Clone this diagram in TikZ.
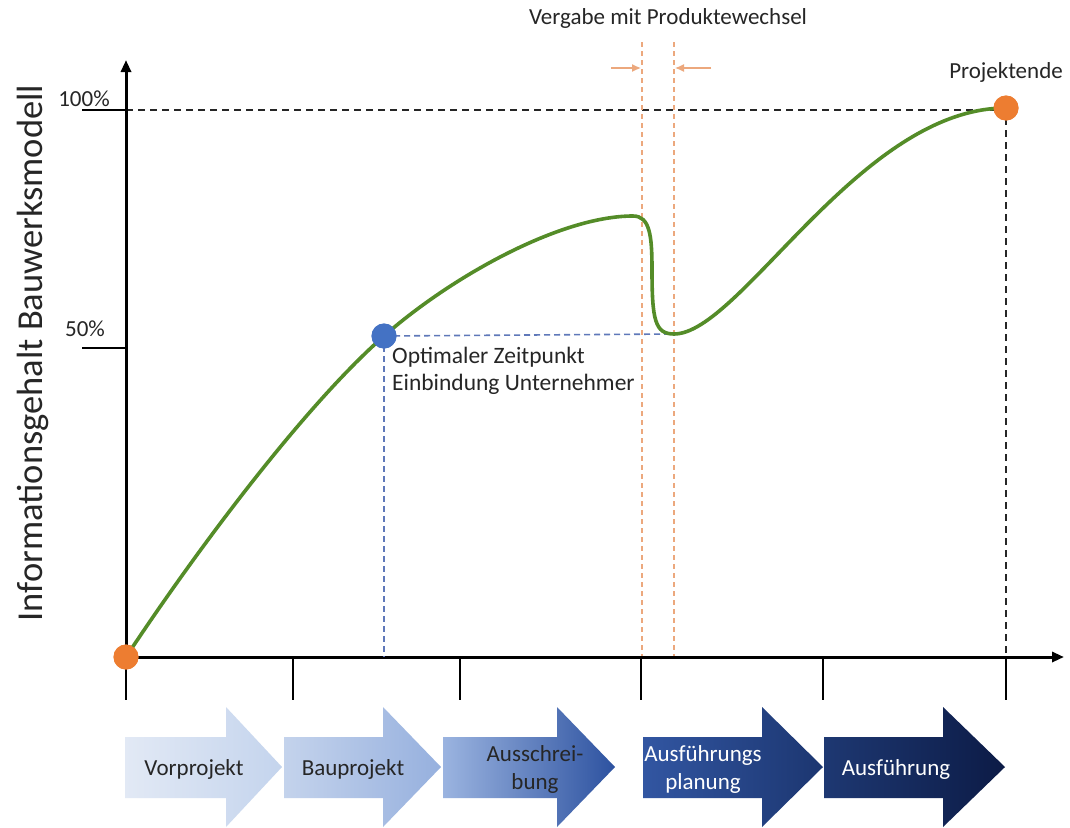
\documentclass[tikz,border=0pt]{standalone}
\usepackage{fontspec}
\setmainfont{Carlito}
\usetikzlibrary{arrows.meta}
\definecolor{ogreen}{RGB}{84,140,40}
\definecolor{oorange}{RGB}{237,125,49}
\definecolor{oblue}{RGB}{68,114,196}
\definecolor{lorange}{RGB}{236,168,125}
\definecolor{dblue}{RGB}{95,120,185}
\definecolor{txt}{RGB}{38,38,38}
\definecolor{pa1}{RGB}{226,233,245}
\definecolor{pb1}{RGB}{196,212,237}
\definecolor{pa2}{RGB}{196,211,236}
\definecolor{pb2}{RGB}{150,176,222}
\definecolor{pa3}{RGB}{155,180,224}
\definecolor{pb3}{RGB}{45,82,160}
\definecolor{pa4}{RGB}{50,86,162}
\definecolor{pb4}{RGB}{28,54,112}
\definecolor{pa5}{RGB}{30,56,114}
\definecolor{pb5}{RGB}{12,27,70}
\newcommand\phasearrow[5]{%
  \shade[left color=#4, right color=#5]
    (#1,737) -- (#2,737) -- (#2,707) -- (#3,767) -- (#2,827) -- (#2,798) -- (#1,798) -- cycle;}
\tikzset{
  lbl/.style={font=\fontsize{23}{28}\selectfont, text=txt, inner sep=0pt},
  phasetxt/.style={font=\fontsize{23}{28}\selectfont, align=center, inner sep=0pt},
  dot/.style={circle, minimum size=25pt, inner sep=0pt},
  axis/.style={line width=3pt, black},
  tickln/.style={line width=1.5pt, black},
  bdash/.style={line width=1.8pt, black!85, dash pattern=on 7pt off 5pt},
  odash/.style={line width=1.2pt, lorange, dash pattern=on 5pt off 4pt},
  udash/.style={line width=1.6pt, dblue, dash pattern=on 6pt off 4pt},
  oarrow/.style={line width=1.3pt, lorange, -{Latex[length=9pt,width=8pt]}},
  curve/.style={line width=3.6pt, ogreen, line cap=round}
}
\begin{document}
\begin{tikzpicture}[x=1pt,y=-1pt]
\useasboundingbox[fill=white] (0,0) rectangle (1070,827);

% coordinates
\coordinate (O) at (126,657);
\coordinate (ytop) at (126,60);
\coordinate (xend) at (1064,657);
\coordinate (t100a) at (82,110);
\coordinate (t100b) at (126,110);
\coordinate (t50a) at (82,348);
\coordinate (t50b) at (126,348);
\coordinate (ptop) at (1006,110);
\coordinate (pbot) at (1006,657);
\coordinate (optbot) at (384,657);
\coordinate (optr) at (674,334);
\coordinate (ol1) at (642,42);
\coordinate (ol2) at (642,657);
\coordinate (or1) at (674,42);
\coordinate (or2) at (674,657);
\coordinate (oa1s) at (611,68);
\coordinate (oa1e) at (641,68);
\coordinate (oa2s) at (711,68);
\coordinate (oa2e) at (675,68);
\foreach \n/\x in {1/126,2/293,3/460,4/641,5/823,6/1006}{
  \coordinate (tk\n a) at (\x,657);
  \coordinate (tk\n b) at (\x,700);
}

% dashed guides
\draw[bdash] (t100b) -- (ptop) -- (pbot);
\draw[odash] (ol1) -- (ol2);
\draw[odash] (or1) -- (or2);
\draw[oarrow] (oa1s) -- (oa1e);
\draw[oarrow] (oa2s) -- (oa2e);

% axes
\draw[tickln] (t100a) -- (t100b);
\draw[tickln] (t50a) -- (t50b);
\foreach \n in {1,...,6}{ \draw[tickln] (tk\n a) -- (tk\n b); }
\draw[axis, -{Triangle[length=12pt,width=10pt]}] (O) -- (ytop);
\draw[axis, -{Triangle[length=12pt,width=10pt]}] (O) -- (xend);

% nodes for dots
\node[dot, fill=oblue] (opt) at (384,336) {};
\node[dot, fill=oorange] (start) at (O) {};
\node[dot, fill=oorange] (end) at (1006,108) {};

% blue dashed
\draw[udash] (opt.center) -- (optr);
\draw[udash] (opt.center) -- (optbot);

% curve
\draw[curve] (start.center) .. controls (190,560) and (300,410) .. (opt.center)
  .. controls (451,277) and (560,216) .. (633,216)
  .. controls (650,216) and (652,236) .. (652,270)
  .. controls (652,320) and (655,334) .. (674,334)
  .. controls (740,334) and (860,108) .. (end.center);

% redraw dots on top
\fill[oblue] (opt) circle (12.5pt);
\fill[oorange] (start) circle (12.5pt);
\fill[oorange] (end) circle (12.5pt);

% labels
\node[lbl] (l100) at (84,99) {100\%};
\node[lbl] (l50) at (85,329) {50\%};
\node[lbl] (vergabe) at (668,18) {Vergabe mit Produktewechsel};
\node[lbl] (projende) at (1006,72) {Projektende};
\node[lbl, anchor=west, align=left, font=\fontsize{23.5}{27}\selectfont] (optlbl) at (392,371) {Optimaler Zeitpunkt\\Einbindung Unternehmer};
\node[rotate=90, font=\fontsize{36.5}{40}\selectfont, text=txt, inner sep=0pt] (ylab) at (33,353) {Informationsgehalt Bauwerksmodell};

% phase arrows
\phasearrow{125}{226}{282}{pa1}{pb1}
\phasearrow{284}{383}{441}{pa2}{pb2}
\phasearrow{443}{557}{615}{pa3}{pb3}
\phasearrow{643}{762}{823}{pa4}{pb4}
\phasearrow{824}{943}{1005}{pa5}{pb5}
\node[phasetxt, text=txt] (vor) at (194,769) {Vorprojekt};
\node[phasetxt, text=txt] (bau) at (353,769) {Bauprojekt};
\node[phasetxt, text=txt] (aus) at (535,769) {Ausschrei-\\bung};
\node[phasetxt, text=white] (ausfp) at (703,769) {Ausführungs\\planung};
\node[phasetxt, text=white] (ausf) at (896,769) {Ausführung};
\end{tikzpicture}
\end{document}
